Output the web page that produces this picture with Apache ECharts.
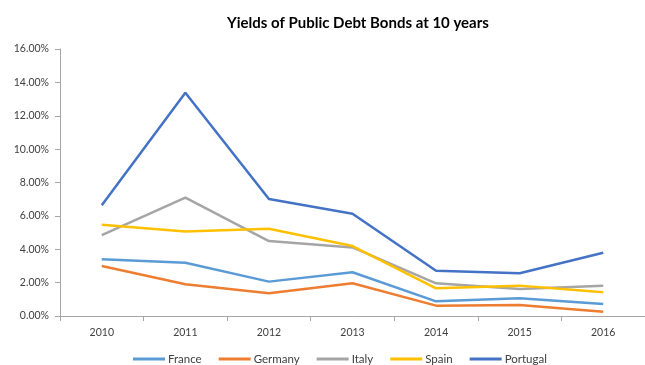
<!DOCTYPE html>
<html>
<head>
<meta charset="utf-8">
<script src="https://cdn.jsdelivr.net/npm/echarts@6/dist/echarts.min.js"></script>
<style>
  html, body { margin: 0; padding: 0; background: #fff; }
  #chart { width: 645px; height: 365px; }
</style>
</head>
<body>
<div id="chart"></div>
<script>
// 10-year government bond yields, in percent
const years = ['2010', '2011', '2012', '2013', '2014', '2015', '2016'];
const france   = [3.40, 3.19, 2.06, 2.62, 0.88, 1.06, 0.72];
const germany  = [3.00, 1.90, 1.36, 1.96, 0.62, 0.66, 0.26];
const italy    = [4.85, 7.09, 4.49, 4.11, 1.96, 1.62, 1.82];
const spain    = [5.47, 5.07, 5.23, 4.19, 1.66, 1.82, 1.42];
const portugal = [6.63, 13.38, 7.01, 6.13, 2.71, 2.56, 3.79];

const seriesDefs = [
  { name: 'France',   data: france,   color: '#5B9BD5' },
  { name: 'Germany',  data: germany,  color: '#ED7D31' },
  { name: 'Italy',    data: italy,    color: '#A5A5A5' },
  { name: 'Spain',    data: spain,    color: '#FFC000' },
  { name: 'Portugal', data: portugal, color: '#4472C4' }
];

const font = 'Lato, "Open Sans", sans-serif';
const chart = echarts.init(document.getElementById('chart'), null, { renderer: 'canvas' });

chart.setOption({
  animation: false,
  textStyle: { fontFamily: font },
  title: {
    text: 'Yields of Public Debt Bonds at 10 years',
    left: 222,
    top: 11,
    textStyle: { fontFamily: font, fontSize: 15, fontWeight: 'bold', color: '#000' }
  },
  legend: {
    top: 348,
    left: 128,
    itemWidth: 32,
    itemHeight: 3,
    itemGap: 17,
    icon: 'rect',
    textStyle: { fontFamily: font, fontSize: 11.5, color: '#404040', padding: [0, 0, 0, -2] },
    data: seriesDefs.map(s => s.name)
  },
  grid: { left: 60, right: -8, top: 49, bottom: 49, containLabel: false },
  xAxis: {
    type: 'category',
    data: years,
    boundaryGap: true,
    axisLine: { lineStyle: { color: '#A6A6A6', width: 1 } },
    axisTick: { show: true, inside: false, length: 5, lineStyle: { color: '#A6A6A6' } },
    axisLabel: { fontFamily: font, fontSize: 10.5, color: '#404040', margin: 11 }
  },
  yAxis: {
    type: 'value',
    min: 0,
    max: 16,
    interval: 2,
    axisLine: { show: true, lineStyle: { color: '#A6A6A6', width: 1 } },
    axisTick: { show: true, length: 5, lineStyle: { color: '#A6A6A6' } },
    splitLine: { show: false },
    axisLabel: {
      fontFamily: font, fontSize: 10.5, color: '#404040', margin: 11,
      formatter: v => v.toFixed(2) + '%'
    }
  },
  series: seriesDefs.map(s => ({
    name: s.name,
    type: 'line',
    data: s.data,
    symbol: 'none',
    color: s.color,
    lineStyle: { color: s.color, width: 2.5 }
  }))
});
</script>
</body>
</html>
